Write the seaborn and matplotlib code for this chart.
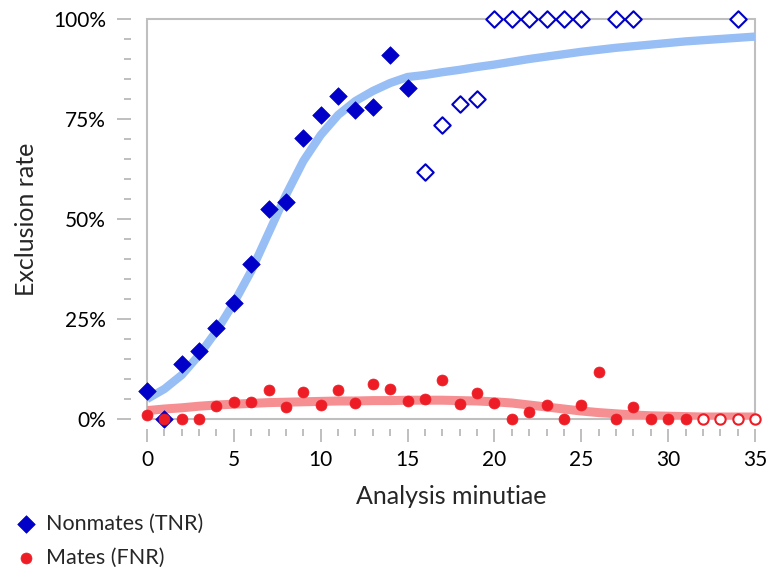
import numpy as np
import pandas as pd
import matplotlib
matplotlib.use("Agg")
import matplotlib.pyplot as plt
from matplotlib.patches import Rectangle
from matplotlib.ticker import MultipleLocator, FuncFormatter
import seaborn as sns

# Nonmates (TNR), exclusion rate in %
tnr_x = [0, 1, 2, 3, 4, 5, 6, 7, 8, 9, 10, 11, 12, 13, 14, 15]
tnr_y = [7.1, 0, 13.7, 17, 22.8, 29.1, 38.7, 52.5, 54.2, 70.2, 75.9, 80.8, 77.2, 78.1, 91, 82.7]
# hollow markers (few samples)
tnr_open_x = [16, 17, 18, 19, 20, 21, 22, 23, 24, 25, 27, 28, 34]
tnr_open_y = [61.7, 73.4, 78.8, 80.1, 100, 100, 100, 100, 100, 100, 100, 100, 100]

# Mates (FNR), exclusion rate in %
fnr_x = list(range(0, 32))
fnr_y = [1.0, 0, 0, 0, 3.3, 4.3, 4.2, 7.3, 2.9, 6.8, 3.4, 7.3, 4.1, 8.7, 7.4, 4.6,
         4.9, 9.8, 3.7, 6.4, 3.9, 0, 1.7, 3.4, 0, 3.5, 11.7, 0, 3.0, 0, 0, 0]
fnr_open_x = [32, 33, 34, 35]
fnr_open_y = [0, 0, 0, 0]

# fitted trend curves
curve_x = list(range(0, 36))
tnr_curve = [5, 7.5, 11, 16, 22, 29, 37, 46.5, 56, 64.5, 71, 76, 79.5, 82, 84, 85.5,
             86, 86.7, 87.3, 88, 88.6, 89.3, 90, 90.6, 91.2, 91.8, 92.3, 92.8, 93.2,
             93.6, 94, 94.4, 94.7, 95, 95.3, 95.6]
fnr_curve = [2.1, 2.5, 2.8, 3.2, 3.5, 3.7, 3.9, 4.1, 4.2, 4.3, 4.4, 4.5, 4.5, 4.6, 4.6,
             4.7, 4.7, 4.7, 4.6, 4.5, 4.3, 4.0, 3.5, 3.0, 2.5, 2.0, 1.6, 1.3, 1.0, 0.8,
             0.7, 0.6, 0.5, 0.5, 0.5, 0.5]

sns.set_style("white")
plt.rcParams['font.family'] = ['Lato', 'DejaVu Sans']

blue = "#0000C8"
red = "#EE1C25"
gray = "#BFBFBF"

fig = plt.figure(figsize=(7.69, 5.67), dpi=100)
ax = fig.add_axes([147 / 769, 1 - 419 / 567, 608 / 769, 400 / 567])

curves = pd.DataFrame({"x": curve_x, "tnr": tnr_curve, "fnr": fnr_curve})
sns.lineplot(data=curves, x="x", y="tnr", color="#97BEF5", lw=6, ax=ax,
             solid_capstyle="butt", zorder=2)
sns.lineplot(data=curves, x="x", y="fnr", color="#F58F92", lw=6.5, ax=ax,
             solid_capstyle="butt", zorder=2)

sns.scatterplot(x=tnr_x, y=tnr_y, marker="D", s=80, color=blue, edgecolor=blue,
                linewidth=0.5, ax=ax, zorder=3, clip_on=False, label="Nonmates (TNR)")
sns.scatterplot(x=tnr_open_x, y=tnr_open_y, marker="D", s=70, facecolor="white",
                edgecolor=blue, linewidth=1.5, ax=ax, zorder=3, clip_on=False)
sns.scatterplot(x=fnr_x, y=fnr_y, marker="o", s=62, color=red, edgecolor=red,
                linewidth=0.5, ax=ax, zorder=4, clip_on=False, label="Mates (FNR)")
sns.scatterplot(x=fnr_open_x, y=fnr_open_y, marker="o", s=55, facecolor="white",
                edgecolor=red, linewidth=1.5, ax=ax, zorder=4, clip_on=False)

ax.set_xlim(0, 35)
ax.set_ylim(0, 100)

# plot-area border, ticks sit detached outside it
for side in ["top", "right", "left", "bottom"]:
    ax.spines[side].set_visible(False)
ax.spines["left"].set_position(("outward", 11.5))
ax.spines["bottom"].set_position(("outward", 7.5))
ax.add_patch(Rectangle((0, 0), 1, 1, transform=ax.transAxes, fill=False,
                       edgecolor=gray, lw=1.5, zorder=1, clip_on=False))

ax.xaxis.set_major_locator(MultipleLocator(5))
ax.xaxis.set_minor_locator(MultipleLocator(1))
ax.yaxis.set_major_locator(MultipleLocator(25))
ax.yaxis.set_minor_locator(MultipleLocator(5))
ax.yaxis.set_major_formatter(FuncFormatter(lambda v, p: f"{v:.0f}%"))

ax.tick_params(which="both", direction="out", color=gray, width=1.4,
               bottom=True, left=True, labelsize=15, labelcolor="black")
ax.tick_params(axis="x", which="major", length=9.5, pad=5)
ax.tick_params(axis="x", which="minor", length=5)
ax.tick_params(axis="y", which="major", length=10, pad=8)
ax.tick_params(axis="y", which="minor", length=5)

ax.set_xlabel("Analysis minutiae", fontsize=18)
ax.set_ylabel("Exclusion rate", fontsize=18)
ax.xaxis.set_label_coords(0.5, -0.165)
ax.yaxis.set_label_coords(-0.18, 0.5)

handles, labels = ax.get_legend_handles_labels()
ax.legend_.remove()
fig.legend(handles, labels, loc="upper left", bbox_to_anchor=(0.006, 1 - 505 / 567),
           frameon=False, fontsize=15.5, handlelength=1.2, handletextpad=0.3,
           labelspacing=0.65, borderaxespad=0, markerscale=1.0)

fig.savefig("out.png", dpi=100)
